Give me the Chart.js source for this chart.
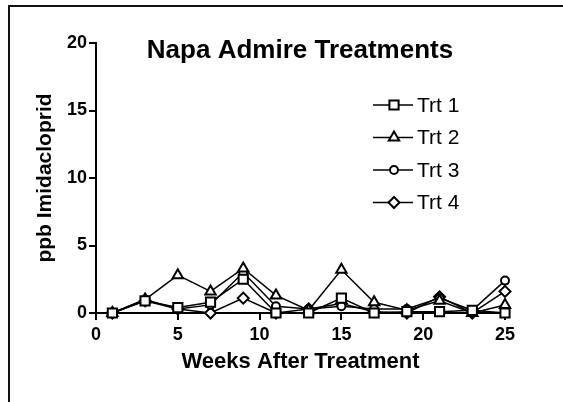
<!DOCTYPE html>
<html>
<head>
<meta charset="utf-8">
<script src="https://cdn.jsdelivr.net/npm/chart.js@4.4.1/dist/chart.umd.min.js"></script>
<style>
  body { margin: 0; background: #fff; }
  #wrap { position: relative; width: 563px; height: 402px; overflow: hidden; }
  #frame { position: absolute; left: 8px; top: 5px; width: 600px; height: 450px;
           border-left: 2px solid #111; border-top: 2px solid #111; }
  canvas { position: absolute; left: 0; top: 0; }
</style>
</head>
<body>
<div id="wrap">
  <div id="frame"></div>
  <canvas id="chart" width="563" height="402"></canvas>
</div>
<script>
// Sampling weeks
const weeks = [1, 3, 5, 7, 9, 11, 13, 15, 17, 19, 21, 23, 25];

// ppb Imidacloprid per treatment
const trt1 = [0, 0.9, 0.4, 0.8, 2.5, 0, 0, 1.1, 0, 0.1, 0.1, 0.2, 0];
const trt2 = [0, 1.0, 2.8, 1.6, 3.3, 1.3, 0.2, 3.2, 0.8, 0.2, 0.9, 0, 0.6];
const trt3 = [0, 1.0, 0.3, 0.6, 3.0, 0.5, 0.3, 0.5, 0.3, 0.3, 1.1, 0.2, 2.4];
const trt4 = [0, 0.9, 0.3, 0, 1.1, 0, 0.3, 0.7, 0.1, 0, 1.2, 0, 1.6];

const seriesNames = ['Trt 1', 'Trt 2', 'Trt 3', 'Trt 4'];
const seriesValues = [trt1, trt2, trt3, trt4];
const markerStyles = ['rect', 'triangle', 'circle', 'rectRot'];
const markerSizes = [6.5, 6, 4, 5.5];

const xTicks = [0, 5, 10, 15, 20, 25];
const yTicks = [0, 5, 10, 15, 20];

const chartTitle = 'Napa Admire Treatments';
const FONT = '"Liberation Sans", Arial, sans-serif';

const datasets = seriesValues.map((vals, i) => ({
  label: seriesNames[i],
  data: weeks.map((w, j) => ({ x: w, y: vals[j] })),
  showLine: true,
  borderColor: '#000',
  borderWidth: 1.5,
  pointStyle: markerStyles[i],
  pointRadius: markerSizes[i],
  pointBackgroundColor: '#fff',
  pointBorderColor: '#000',
  pointBorderWidth: 2,
  clip: false
}));

// title + legend drawn inside the plot like the original
const overlay = {
  id: 'overlay',
  afterDraw(chart) {
    const ctx = chart.ctx;
    ctx.save();
    ctx.fillStyle = '#000';
    ctx.textBaseline = 'middle';
    ctx.textAlign = 'center';
    ctx.font = 'bold 26px ' + FONT;
    ctx.fillText(chartTitle, 300, 51);

    ctx.textAlign = 'left';
    ctx.font = '21px ' + FONT;
    seriesNames.forEach((name, i) => {
      const y = 105 + i * 32.5;
      ctx.strokeStyle = '#000';
      ctx.lineWidth = 1.5;
      ctx.beginPath();
      ctx.moveTo(373, y);
      ctx.lineTo(413, y);
      ctx.stroke();
      ctx.fillStyle = '#fff';
      ctx.lineWidth = 2;
      Chart.helpers.drawPoint(ctx, { pointStyle: markerStyles[i], radius: markerSizes[i], borderWidth: 2 }, 394, y);
      ctx.fillStyle = '#000';
      ctx.fillText(name, 417, y + 1);
    });
    ctx.restore();
  }
};

new Chart(document.getElementById('chart'), {
  type: 'scatter',
  data: { datasets },
  plugins: [overlay],
  options: {
    responsive: false,
    animation: false,
    layout: { padding: { left: 0, top: 43, right: 58, bottom: 0 } },
    plugins: { legend: { display: false }, tooltip: { enabled: false } },
    scales: {
      x: {
        type: 'linear',
        min: 0,
        max: 25,
        afterFit: (s) => { s.height = 89; },
        afterBuildTicks: (s) => { s.ticks = xTicks.map(v => ({ value: v })); },
        grid: { drawOnChartArea: false, drawTicks: true, tickLength: 7, color: '#000', lineWidth: 2 },
        border: { color: '#000', width: 2 },
        ticks: { color: '#000', padding: 4, maxRotation: 0, font: { family: FONT, size: 18, weight: 'bold' } },
        title: {
          display: true,
          text: 'Weeks After Treatment',
          color: '#000',
          font: { family: FONT, size: 22, weight: 'bold' },
          padding: { top: 0, bottom: 27 }
        }
      },
      y: {
        min: 0,
        max: 20,
        afterFit: (s) => { s.width = 96; },
        afterBuildTicks: (s) => { s.ticks = yTicks.map(v => ({ value: v })); },
        grid: { drawOnChartArea: false, drawTicks: true, tickLength: 7, color: '#000', lineWidth: 2 },
        border: { color: '#000', width: 2 },
        ticks: { color: '#000', padding: 2, font: { family: FONT, size: 18, weight: 'bold' } },
        title: {
          display: true,
          text: 'ppb Imidacloprid',
          color: '#000',
          font: { family: FONT, size: 21, weight: 'bold' },
          padding: { top: 33, bottom: 0 }
        }
      }
    }
  }
});
</script>
</body>
</html>
